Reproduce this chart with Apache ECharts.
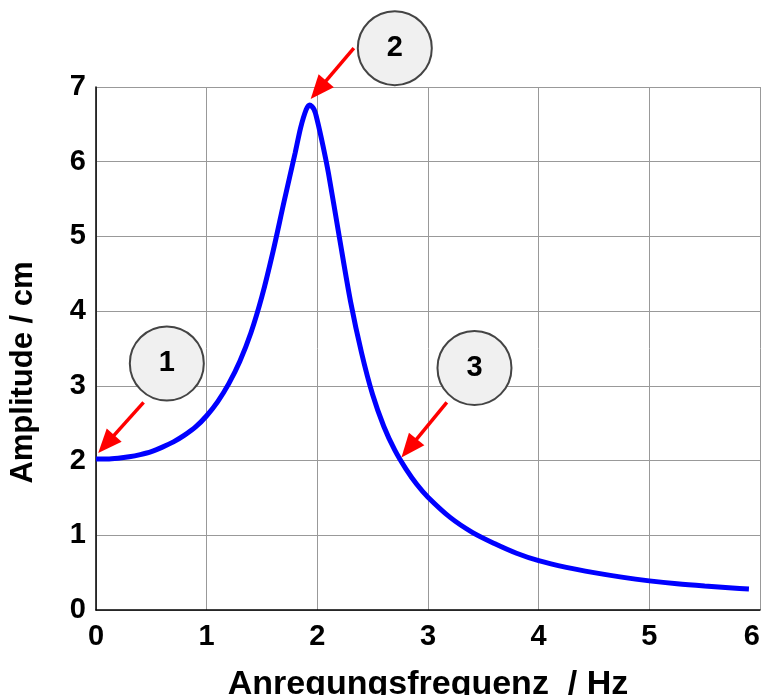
<!DOCTYPE html>
<html>
<head>
<meta charset="utf-8">
<script src="https://cdn.jsdelivr.net/npm/echarts@6/dist/echarts.min.js"></script>
<style>
html,body{margin:0;padding:0;background:#fff;}
#chart{width:763px;height:695px;}
</style>
</head>
<body>
<div id="chart"></div>
<script>
// Frequency (Hz) and amplitude (cm)
const freq = [0, 0.1, 0.2, 0.3, 0.4, 0.5, 0.6, 0.7, 0.8, 0.9, 1.0, 1.1, 1.2, 1.3, 1.4, 1.5, 1.6, 1.7, 1.8, 1.85, 1.9, 1.93, 1.97, 2.0, 2.05, 2.1, 2.2, 2.3, 2.4, 2.5, 2.6, 2.7, 2.8, 2.9, 3.0, 3.2, 3.4, 3.6, 3.8, 4.0, 4.25, 4.5, 4.75, 5.0, 5.25, 5.5, 5.75, 5.9];
const amplitude = [2.02, 2.02, 2.03, 2.05, 2.08, 2.12, 2.18, 2.25, 2.34, 2.45, 2.6, 2.79, 3.03, 3.33, 3.71, 4.2, 4.8, 5.47, 6.12, 6.46, 6.70, 6.76, 6.70, 6.55, 6.22, 5.85, 4.98, 4.13, 3.44, 2.88, 2.46, 2.14, 1.89, 1.68, 1.51, 1.24, 1.04, 0.89, 0.76, 0.66, 0.57, 0.5, 0.44, 0.39, 0.35, 0.32, 0.295, 0.28];

// Annotation markers (data coordinates)
const markerLabels = ['1', '2', '3'];
const markerX = [0.64, 2.70, 3.42];
const markerY = [3.30, 7.52, 3.24];
const arrowFromX = [0.43, 2.33, 3.17];
const arrowFromY = [2.78, 7.52, 2.78];
const arrowToX = [0.02, 1.94, 2.76];
const arrowToY = [2.10, 6.84, 2.04];

const xTicks = ['0', '1', '2', '3', '4', '5', '6'];
const yTicks = ['0', '1', '2', '3', '4', '5', '6', '7'];

const FONT = '"Liberation Sans", Arial, sans-serif';

const chart = echarts.init(document.getElementById('chart'));

const lineData = freq.map((f, i) => [f, amplitude[i]]);
const markerData = markerLabels.map((l, i) => ({ value: [markerX[i], markerY[i]], name: l }));

chart.setOption({
  animation: false,
  backgroundColor: '#fff',
  grid: { left: 96, right: 3, top: 87, bottom: 85, containLabel: false, outerBoundsMode: 'none' },
  xAxis: {
    type: 'value', min: 0, max: 6, interval: 1,
    name: 'Anregungsfrequenz  / Hz',
    nameLocation: 'middle', nameGap: 58,
    nameTextStyle: { fontFamily: FONT, fontWeight: 'bold', fontSize: 34, color: '#000' },
    axisLine: { show: true, onZero: false, lineStyle: { color: '#000', width: 1.5 } },
    axisTick: { show: false },
    axisLabel: {
      fontFamily: FONT, fontWeight: 'bold', fontSize: 29, color: '#000', margin: 12,
      alignMaxLabel: 'right',
      formatter: v => xTicks[Math.round(v)]
    },
    splitLine: { show: true, lineStyle: { color: '#999', width: 1 } }
  },
  yAxis: {
    type: 'value', min: 0, max: 7, interval: 1,
    name: 'Amplitude / cm',
    nameLocation: 'middle', nameGap: 57, nameRotate: 90,
    nameTextStyle: { fontFamily: FONT, fontWeight: 'bold', fontSize: 31, color: '#000', padding: [0, 48, 0, 0] },
    axisLine: { show: true, onZero: false, lineStyle: { color: '#000', width: 1.5 } },
    axisTick: { show: false },
    axisLabel: {
      fontFamily: FONT, fontWeight: 'bold', fontSize: 29, color: '#000', margin: 10,
      formatter: v => yTicks[Math.round(v)]
    },
    splitLine: { show: true, lineStyle: { color: '#999', width: 1 } }
  },
  series: [
    {
      type: 'line',
      data: lineData,
      showSymbol: false,
      smooth: 0.3,
      clip: false,
      lineStyle: { color: '#0000ff', width: 5 },
      z: 3
    },
    {
      type: 'scatter',
      data: markerData,
      clip: false,
      symbol: 'circle',
      symbolSize: 74,
      itemStyle: { color: '#f0f0f0', borderColor: '#444', borderWidth: 2, opacity: 1 },
      label: {
        show: true, position: 'inside', formatter: p => p.name,
        fontFamily: FONT, fontWeight: 'bold', fontSize: 29, color: '#000'
      },
      z: 4
    }
  ]
});

// Red arrows, positioned from data coordinates through the grid's scales
const HEAD_LEN = 24, HEAD_HALF = 10;
const arrowElems = [];
markerLabels.forEach((l, i) => {
  const a = chart.convertToPixel({ gridIndex: 0 }, [arrowFromX[i], arrowFromY[i]]);
  const b = chart.convertToPixel({ gridIndex: 0 }, [arrowToX[i], arrowToY[i]]);
  const dx = b[0] - a[0], dy = b[1] - a[1];
  const len = Math.sqrt(dx * dx + dy * dy);
  const ux = dx / len, uy = dy / len;
  const bx = b[0] - ux * HEAD_LEN, by = b[1] - uy * HEAD_LEN;
  arrowElems.push({
    type: 'line', silent: true, z: 10,
    shape: { x1: a[0], y1: a[1], x2: bx + ux * 2, y2: by + uy * 2 },
    style: { stroke: '#ff0000', lineWidth: 3.5 }
  });
  arrowElems.push({
    type: 'polygon', silent: true, z: 10,
    shape: { points: [[b[0], b[1]], [bx - uy * HEAD_HALF, by + ux * HEAD_HALF], [bx + uy * HEAD_HALF, by - ux * HEAD_HALF]] },
    style: { fill: '#ff0000' }
  });
});
chart.setOption({ graphic: arrowElems });
</script>
</body>
</html>
